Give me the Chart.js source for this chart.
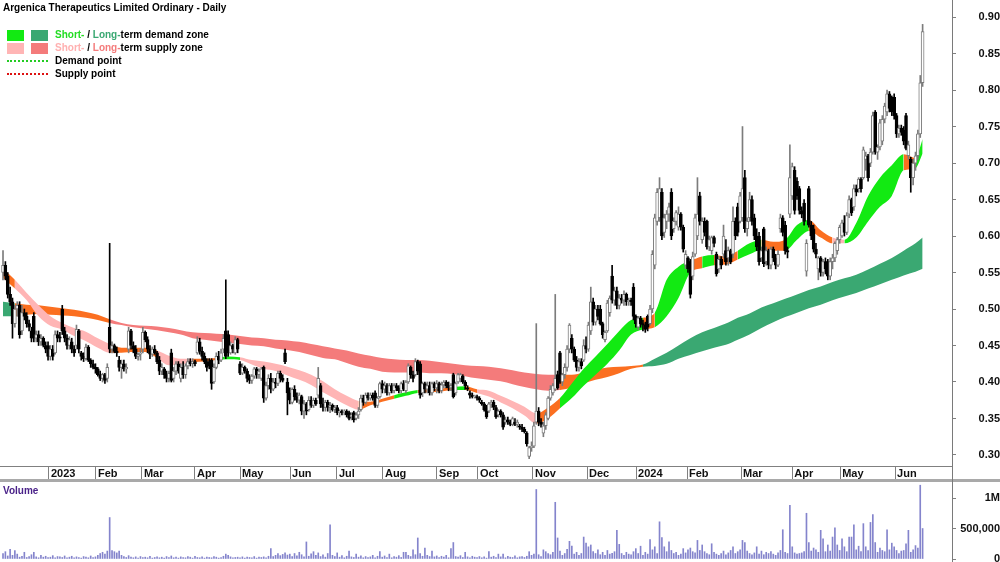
<!DOCTYPE html>
<html>
<head>
<meta charset="utf-8">
<script src="https://cdn.jsdelivr.net/npm/chart.js@4.4.1/dist/chart.umd.min.js"></script>
<style>
  body { margin: 0; background: #fff; font-family: "Liberation Sans", Arial, sans-serif; }
  #wrap { position: relative; width: 1000px; height: 562px; overflow: hidden; }
  #priceBox { position: absolute; left: 0; top: 0; }
  #volBox { position: absolute; left: 0; top: 484px; }
  #sep { position: absolute; left: 0; top: 479px; width: 1000px; height: 3px; background: #a9a9a9; }
  #vline { position: absolute; left: 952px; top: 0; width: 1px; height: 562px; background: #7a7a7a; }
  #title { position: absolute; left: 3px; top: 2px; font-size: 10px; font-weight: bold; color: #000; }
  .row { position: absolute; left: 7px; height: 11px; font-size: 10px; font-weight: bold; color: #000; white-space: nowrap; }
  .sw { position: absolute; top: 0; width: 17px; height: 11px; }
  .sw.a { left: 0; } .sw.b { left: 24px; }
  .dots { position: absolute; left: 0; top: 4px; width: 41px; height: 0; border-top: 2px dotted; }
  .txt { position: absolute; left: 48px; top: -1px; line-height: 12px; }
  #volLabel { position: absolute; left: 3px; top: 485px; font-size: 10px; font-weight: bold; color: #4a2289; }
</style>
</head>
<body>
<div id="wrap">
  <div id="priceBox"><canvas id="price" width="1000" height="482"></canvas></div>
  <div id="volBox"><canvas id="volume" width="1000" height="90"></canvas></div>
  <div id="sep"></div>
  <div id="vline"></div>
  <div id="title">Argenica Therapeutics Limited Ordinary - Daily</div>
  <div class="row" style="top:30px">
    <span class="sw a" style="background:#12ea12"></span><span class="sw b" style="background:#3aa872"></span>
    <span class="txt"><span style="color:#22dd22">Short-</span> / <span style="color:#3aa872">Long-</span>term demand zone</span>
  </div>
  <div class="row" style="top:43px">
    <span class="sw a" style="background:#ffb5b5"></span><span class="sw b" style="background:#f47b7b"></span>
    <span class="txt"><span style="color:#ffb0b0">Short-</span> / <span style="color:#f47b7b">Long-</span>term supply zone</span>
  </div>
  <div class="row" style="top:56px">
    <span class="dots" style="border-color:#22cc22"></span><span class="txt">Demand point</span>
  </div>
  <div class="row" style="top:69px">
    <span class="dots" style="border-color:#dd1111"></span><span class="txt">Supply point</span>
  </div>
  <div id="volLabel">Volume</div>
</div>
<script>
// daily candles, Dec 2022 -> mid Jun 2024 (one entry per trading day)
const open = [
  0.550,0.560,0.545,0.520,0.510,0.480,0.500,0.505,0.470,0.495,
  0.490,0.480,0.470,0.490,0.460,0.465,0.455,0.460,0.450,0.450,
  0.435,0.445,0.440,0.465,0.462,0.500,0.470,0.460,0.450,0.455,
  0.445,0.450,0.470,0.440,0.435,0.432,0.448,0.430,0.425,0.420,
  0.418,0.410,0.405,0.410,0.405,0.475,0.445,0.450,0.442,0.430,
  0.420,0.425,0.418,0.445,0.470,0.450,0.445,0.435,0.438,0.445,
  0.468,0.458,0.445,0.438,0.445,0.440,0.430,0.415,0.418,0.410,
  0.405,0.440,0.405,0.415,0.425,0.405,0.420,0.410,0.422,0.428,
  0.425,0.428,0.440,0.455,0.442,0.435,0.428,0.428,0.430,0.400,
  0.420,0.435,0.430,0.445,0.470,0.465,0.440,0.450,0.440,0.458,
  0.425,0.412,0.420,0.415,0.405,0.402,0.408,0.418,0.410,0.405,
  0.420,0.378,0.395,0.405,0.390,0.400,0.398,0.412,0.405,0.440,
  0.400,0.385,0.372,0.390,0.380,0.375,0.380,0.360,0.370,0.362,
  0.375,0.368,0.375,0.382,0.395,0.370,0.365,0.372,0.365,0.368,
  0.362,0.365,0.358,0.360,0.358,0.360,0.358,0.352,0.358,0.350,
  0.355,0.362,0.378,0.372,0.382,0.378,0.382,0.385,0.368,0.380,
  0.398,0.390,0.395,0.385,0.395,0.388,0.395,0.392,0.388,0.398,
  0.388,0.400,0.420,0.410,0.410,0.428,0.425,0.385,0.398,0.390,
  0.395,0.385,0.398,0.392,0.398,0.388,0.396,0.400,0.395,0.392,
  0.410,0.385,0.400,0.405,0.408,0.400,0.392,0.385,0.382,0.380,
  0.380,0.378,0.372,0.370,0.365,0.360,0.370,0.372,0.365,0.355,
  0.360,0.355,0.345,0.348,0.345,0.342,0.345,0.342,0.340,0.338,
  0.335,0.330,0.298,0.310,0.312,0.345,0.360,0.345,0.330,0.340,
  0.350,0.378,0.385,0.390,0.410,0.440,0.400,0.410,0.420,0.445,
  0.460,0.445,0.430,0.420,0.428,0.430,0.450,0.445,0.470,0.510,
  0.482,0.500,0.500,0.480,0.458,0.470,0.495,0.545,0.512,0.525,
  0.505,0.515,0.512,0.520,0.510,0.512,0.530,0.490,0.475,0.488,
  0.480,0.478,0.490,0.480,0.500,0.560,0.620,0.625,0.660,0.605,
  0.620,0.630,0.660,0.610,0.620,0.612,0.630,0.612,0.560,0.570,
  0.565,0.545,0.575,0.600,0.655,0.595,0.620,0.620,0.585,0.580,
  0.598,0.575,0.555,0.568,0.575,0.580,0.570,0.580,0.575,0.620,
  0.640,0.620,0.625,0.680,0.610,0.625,0.650,0.625,0.600,0.600,
  0.570,0.610,0.565,0.580,0.560,0.582,0.570,0.560,0.610,0.625,
  0.615,0.580,0.630,0.655,0.690,0.675,0.665,0.635,0.645,0.552,
  0.665,0.615,0.610,0.582,0.555,0.570,0.550,0.565,0.565,0.545,
  0.565,0.570,0.580,0.595,0.600,0.618,0.605,0.630,0.650,0.640,
  0.665,0.665,0.678,0.680,0.705,0.710,0.700,0.715,0.770,0.715,
  0.722,0.730,0.760,0.770,0.795,0.790,0.790,0.765,0.740,0.748,
  0.745,0.765,0.710,0.705,0.680,0.700,0.710,0.740,0.810
];
const high = [
  0.580,0.565,0.550,0.530,0.515,0.505,0.510,0.510,0.505,0.500,
  0.495,0.485,0.475,0.495,0.470,0.470,0.465,0.462,0.455,0.455,
  0.450,0.450,0.470,0.470,0.468,0.505,0.475,0.465,0.462,0.460,
  0.450,0.478,0.472,0.442,0.440,0.452,0.450,0.432,0.430,0.425,
  0.420,0.415,0.412,0.412,0.425,0.590,0.455,0.452,0.448,0.435,
  0.430,0.430,0.425,0.475,0.472,0.455,0.450,0.440,0.445,0.475,
  0.470,0.462,0.450,0.448,0.450,0.442,0.435,0.425,0.420,0.415,
  0.415,0.445,0.420,0.428,0.428,0.425,0.428,0.425,0.432,0.432,
  0.432,0.430,0.462,0.460,0.448,0.440,0.432,0.432,0.432,0.425,
  0.440,0.442,0.445,0.465,0.540,0.470,0.455,0.452,0.462,0.460,
  0.428,0.425,0.422,0.418,0.410,0.410,0.420,0.420,0.418,0.420,
  0.422,0.400,0.410,0.412,0.405,0.405,0.415,0.415,0.410,0.445,
  0.405,0.392,0.392,0.395,0.385,0.385,0.382,0.375,0.372,0.380,
  0.380,0.378,0.378,0.420,0.398,0.378,0.375,0.375,0.372,0.370,
  0.368,0.368,0.362,0.362,0.362,0.362,0.360,0.358,0.360,0.358,
  0.365,0.382,0.382,0.385,0.385,0.385,0.385,0.388,0.380,0.400,
  0.402,0.400,0.398,0.398,0.398,0.398,0.398,0.395,0.400,0.402,
  0.402,0.425,0.422,0.415,0.432,0.430,0.428,0.400,0.400,0.400,
  0.400,0.400,0.400,0.402,0.400,0.400,0.402,0.402,0.400,0.398,
  0.412,0.400,0.412,0.412,0.410,0.402,0.395,0.388,0.385,0.382,
  0.382,0.380,0.375,0.372,0.368,0.372,0.375,0.375,0.368,0.362,
  0.362,0.358,0.352,0.352,0.348,0.352,0.350,0.348,0.342,0.342,
  0.338,0.332,0.312,0.318,0.345,0.480,0.365,0.350,0.345,0.358,
  0.380,0.395,0.398,0.520,0.415,0.442,0.412,0.425,0.450,0.480,
  0.465,0.448,0.435,0.432,0.432,0.458,0.462,0.482,0.530,0.515,
  0.505,0.505,0.505,0.482,0.470,0.512,0.518,0.560,0.530,0.530,
  0.520,0.520,0.525,0.522,0.515,0.515,0.535,0.492,0.490,0.490,
  0.485,0.482,0.492,0.505,0.580,0.630,0.665,0.680,0.665,0.630,
  0.635,0.645,0.665,0.625,0.635,0.640,0.632,0.615,0.580,0.572,
  0.568,0.578,0.630,0.680,0.660,0.625,0.625,0.622,0.600,0.600,
  0.600,0.578,0.572,0.572,0.615,0.595,0.585,0.582,0.640,0.625,
  0.645,0.660,0.750,0.690,0.625,0.660,0.655,0.630,0.610,0.605,
  0.585,0.612,0.585,0.582,0.585,0.585,0.575,0.580,0.630,0.628,
  0.620,0.585,0.725,0.700,0.695,0.680,0.668,0.640,0.650,0.595,
  0.668,0.620,0.615,0.590,0.572,0.572,0.568,0.570,0.568,0.570,
  0.575,0.592,0.598,0.615,0.622,0.628,0.632,0.655,0.652,0.670,
  0.670,0.680,0.680,0.722,0.715,0.712,0.720,0.770,0.772,0.725,
  0.760,0.765,0.782,0.800,0.798,0.792,0.795,0.768,0.752,0.752,
  0.750,0.768,0.730,0.708,0.705,0.715,0.745,0.820,0.890
];
const low = [
  0.540,0.540,0.515,0.505,0.460,0.475,0.490,0.460,0.465,0.485,
  0.475,0.470,0.455,0.455,0.455,0.450,0.450,0.448,0.440,0.430,
  0.430,0.430,0.438,0.455,0.455,0.465,0.455,0.445,0.445,0.440,
  0.435,0.445,0.440,0.430,0.428,0.430,0.428,0.420,0.418,0.412,
  0.408,0.402,0.400,0.398,0.400,0.440,0.440,0.440,0.435,0.415,
  0.405,0.415,0.412,0.440,0.445,0.440,0.432,0.430,0.430,0.440,
  0.455,0.440,0.432,0.435,0.438,0.425,0.410,0.410,0.405,0.400,
  0.400,0.400,0.400,0.410,0.412,0.400,0.405,0.405,0.418,0.422,
  0.420,0.422,0.438,0.438,0.430,0.425,0.415,0.418,0.390,0.398,
  0.418,0.425,0.428,0.440,0.432,0.435,0.438,0.440,0.438,0.440,
  0.410,0.410,0.412,0.400,0.398,0.398,0.405,0.405,0.405,0.402,
  0.372,0.375,0.390,0.385,0.388,0.392,0.395,0.400,0.400,0.425,
  0.355,0.370,0.370,0.375,0.372,0.370,0.355,0.350,0.355,0.360,
  0.365,0.365,0.368,0.378,0.365,0.360,0.360,0.360,0.358,0.360,
  0.358,0.355,0.352,0.355,0.355,0.352,0.348,0.348,0.345,0.348,
  0.350,0.360,0.368,0.370,0.375,0.375,0.375,0.365,0.365,0.378,
  0.385,0.385,0.382,0.382,0.385,0.385,0.388,0.385,0.385,0.388,
  0.385,0.398,0.405,0.400,0.408,0.410,0.378,0.380,0.385,0.385,
  0.382,0.382,0.388,0.385,0.385,0.385,0.392,0.392,0.388,0.388,
  0.378,0.382,0.398,0.400,0.398,0.390,0.388,0.378,0.378,0.378,
  0.375,0.372,0.368,0.360,0.350,0.358,0.365,0.362,0.350,0.352,
  0.352,0.335,0.342,0.342,0.340,0.340,0.340,0.338,0.335,0.332,
  0.330,0.312,0.295,0.305,0.310,0.342,0.340,0.338,0.325,0.335,
  0.348,0.375,0.382,0.388,0.390,0.398,0.395,0.405,0.415,0.440,
  0.440,0.428,0.415,0.415,0.418,0.428,0.440,0.442,0.465,0.478,
  0.478,0.485,0.478,0.460,0.455,0.468,0.490,0.508,0.505,0.500,
  0.500,0.508,0.505,0.505,0.505,0.505,0.485,0.475,0.472,0.475,
  0.470,0.468,0.470,0.478,0.495,0.555,0.615,0.620,0.595,0.598,
  0.610,0.620,0.595,0.605,0.615,0.608,0.608,0.578,0.555,0.550,
  0.515,0.540,0.572,0.595,0.615,0.590,0.600,0.582,0.580,0.575,
  0.585,0.545,0.550,0.555,0.570,0.560,0.560,0.562,0.570,0.595,
  0.600,0.618,0.620,0.605,0.600,0.620,0.615,0.595,0.580,0.560,
  0.565,0.558,0.560,0.555,0.555,0.565,0.555,0.558,0.605,0.600,
  0.575,0.570,0.625,0.650,0.630,0.650,0.630,0.625,0.615,0.545,
  0.612,0.595,0.578,0.570,0.540,0.545,0.545,0.548,0.540,0.540,
  0.555,0.565,0.575,0.590,0.598,0.600,0.602,0.625,0.628,0.635,
  0.655,0.660,0.660,0.678,0.690,0.675,0.695,0.712,0.712,0.705,
  0.718,0.725,0.755,0.765,0.770,0.765,0.760,0.735,0.735,0.738,
  0.725,0.718,0.705,0.660,0.670,0.690,0.705,0.735,0.805
];
const close = [
  0.560,0.545,0.520,0.510,0.480,0.500,0.505,0.465,0.495,0.490,
  0.480,0.475,0.460,0.460,0.465,0.455,0.460,0.450,0.445,0.435,
  0.445,0.435,0.465,0.460,0.460,0.470,0.460,0.450,0.458,0.445,
  0.440,0.472,0.445,0.435,0.432,0.448,0.430,0.425,0.420,0.418,
  0.410,0.405,0.410,0.402,0.420,0.445,0.450,0.442,0.440,0.420,
  0.425,0.418,0.420,0.470,0.450,0.445,0.435,0.438,0.440,0.468,
  0.458,0.445,0.438,0.445,0.440,0.428,0.415,0.420,0.410,0.405,
  0.412,0.402,0.415,0.425,0.415,0.420,0.410,0.422,0.428,0.425,
  0.428,0.425,0.455,0.442,0.435,0.428,0.420,0.422,0.398,0.420,
  0.435,0.430,0.440,0.460,0.435,0.440,0.450,0.445,0.458,0.445,
  0.412,0.420,0.415,0.405,0.402,0.408,0.418,0.410,0.415,0.418,
  0.378,0.395,0.405,0.390,0.400,0.398,0.412,0.405,0.402,0.428,
  0.385,0.375,0.390,0.380,0.375,0.382,0.360,0.370,0.360,0.375,
  0.368,0.375,0.370,0.405,0.370,0.365,0.372,0.365,0.368,0.362,
  0.365,0.358,0.360,0.358,0.360,0.355,0.350,0.355,0.348,0.355,
  0.360,0.378,0.372,0.382,0.378,0.382,0.378,0.368,0.378,0.398,
  0.390,0.395,0.385,0.395,0.388,0.395,0.392,0.388,0.398,0.390,
  0.400,0.422,0.410,0.405,0.428,0.415,0.382,0.398,0.390,0.395,
  0.385,0.398,0.392,0.398,0.388,0.396,0.400,0.395,0.392,0.395,
  0.380,0.398,0.410,0.410,0.400,0.395,0.390,0.382,0.380,0.380,
  0.378,0.375,0.370,0.362,0.352,0.370,0.372,0.365,0.352,0.360,
  0.355,0.338,0.348,0.345,0.342,0.350,0.342,0.345,0.338,0.335,
  0.332,0.315,0.310,0.312,0.340,0.360,0.345,0.342,0.340,0.355,
  0.378,0.390,0.395,0.405,0.392,0.400,0.410,0.420,0.445,0.478,
  0.445,0.430,0.420,0.428,0.422,0.450,0.445,0.478,0.510,0.482,
  0.500,0.490,0.480,0.465,0.468,0.508,0.515,0.512,0.525,0.505,
  0.515,0.512,0.520,0.510,0.512,0.510,0.490,0.480,0.488,0.480,
  0.478,0.472,0.475,0.500,0.575,0.625,0.660,0.665,0.600,0.625,
  0.630,0.640,0.600,0.620,0.632,0.630,0.612,0.582,0.575,0.555,
  0.520,0.572,0.625,0.630,0.620,0.620,0.605,0.585,0.595,0.598,
  0.590,0.548,0.568,0.560,0.600,0.565,0.580,0.565,0.620,0.600,
  0.605,0.655,0.665,0.610,0.620,0.650,0.620,0.600,0.585,0.565,
  0.580,0.562,0.580,0.560,0.582,0.570,0.560,0.575,0.625,0.605,
  0.580,0.578,0.680,0.695,0.635,0.655,0.635,0.630,0.620,0.590,
  0.615,0.600,0.582,0.575,0.570,0.550,0.565,0.555,0.545,0.565,
  0.570,0.590,0.595,0.612,0.618,0.605,0.628,0.650,0.632,0.665,
  0.660,0.678,0.665,0.718,0.710,0.680,0.715,0.765,0.715,0.722,
  0.755,0.760,0.778,0.795,0.775,0.770,0.765,0.740,0.748,0.742,
  0.730,0.720,0.725,0.680,0.700,0.710,0.740,0.810,0.880
];
// volume in thousands of shares
const volumeK = [
  90,120,50,160,60,140,80,30,45,110,
  25,40,70,110,35,20,60,30,45,25,
  30,55,20,40,35,25,50,20,30,45,
  20,35,25,15,40,30,20,50,25,35,
  60,90,110,80,130,680,140,120,100,130,
  60,40,25,55,30,20,35,15,40,25,
  30,20,45,15,25,35,20,30,15,40,
  25,50,20,30,15,35,25,20,40,30,
  15,45,25,20,35,15,30,25,20,40,
  30,15,25,45,80,60,35,20,25,30,
  20,35,15,30,25,20,40,15,30,25,
  35,20,45,170,40,60,90,55,75,100,
  65,80,40,90,50,110,70,35,280,45,
  85,120,60,100,40,70,30,90,560,60,
  40,100,30,55,20,45,130,35,25,80,
  30,50,20,40,25,35,60,20,45,120,
  30,50,25,80,20,40,30,55,25,110,
  110,60,40,150,70,345,90,45,180,60,
  40,130,35,50,25,45,30,60,20,170,
  270,40,30,55,25,110,35,20,45,30,
  25,40,20,35,15,120,30,45,25,80,
  35,80,20,45,30,25,50,20,35,40,
  25,45,120,60,80,1140,70,40,150,120,
  90,70,110,930,345,130,60,90,160,290,
  210,80,110,60,90,360,260,200,230,120,
  90,150,70,110,60,140,80,95,120,470,
  240,90,60,110,80,70,120,170,90,210,
  60,110,80,320,150,200,90,610,350,200,
  120,280,140,90,110,60,80,170,100,150,
  180,120,100,305,140,230,120,90,70,250,
  110,80,60,90,130,70,100,140,200,90,
  120,150,305,270,130,90,70,100,200,80,
  130,70,110,90,120,80,60,100,140,480,
  110,90,880,200,100,80,90,100,120,750,
  270,130,180,150,110,470,330,120,230,130,
  360,510,230,140,330,200,120,360,360,560,
  150,210,120,580,200,140,600,730,270,110,
  180,140,120,480,150,260,200,140,90,130,
  140,250,470,110,150,220,180,1210,500
];

// demand / supply ribbons read at every 5th trading day
const ribbonIdx = [
  0,5,10,15,20,25,30,35,40,45,50,55,60,65,70,75,80,85,90,95,
  100,105,110,115,120,125,130,135,140,145,150,155,160,165,170,175,180,185,190,195,
  200,205,210,215,220,225,230,235,240,245,250,255,260,265,270,275,280,285,290,295,
  300,305,310,315,320,325,330,335,340,345,350,355,360,365,370,375,380,385,388
];
const shortUpper = [
  0.556,0.540,0.522,0.505,0.490,0.481,0.474,0.469,0.460,0.452,
  0.447,0.447,0.447,0.443,0.436,0.432,0.432,0.432,0.433,0.435,
  0.434,0.430,0.428,0.425,0.421,0.416,0.410,0.401,0.390,0.381,
  0.374,0.373,0.377,0.382,0.386,0.389,0.390,0.391,0.393,0.394,
  0.390,0.388,0.381,0.374,0.366,0.357,0.365,0.378,0.398,0.418,
  0.435,0.452,0.470,0.485,0.488,0.495,0.540,0.558,0.566,0.572,
  0.574,0.572,0.580,0.590,0.595,0.592,0.595,0.615,0.622,0.608,
  0.598,0.595,0.618,0.655,0.680,0.697,0.712,0.707,0.733
];
const shortLower = [
  0.543,0.528,0.512,0.490,0.477,0.472,0.463,0.456,0.447,0.440,
  0.440,0.441,0.441,0.433,0.423,0.424,0.427,0.428,0.430,0.431,
  0.430,0.424,0.418,0.415,0.409,0.403,0.396,0.386,0.377,0.368,
  0.362,0.368,0.373,0.377,0.381,0.385,0.386,0.387,0.389,0.389,
  0.385,0.380,0.372,0.364,0.354,0.343,0.350,0.364,0.378,0.395,
  0.410,0.425,0.443,0.465,0.472,0.475,0.490,0.515,0.550,0.556,
  0.560,0.561,0.568,0.575,0.581,0.580,0.580,0.595,0.607,0.598,
  0.590,0.590,0.598,0.620,0.640,0.655,0.690,0.693,0.713
];
// D = demand, S = supply, N = neutral (one letter per ribbon step)
const shortZone = 'NSSSSSSSSNNNNSSSNNDDSSSSSSSSSSNNNDDNNNDNSSSSSNNDDDDDDDNDDDNDNNDDNNDDNNSDDDDDNDD';
const longUpper = [
  0.510,0.508,0.506,0.505,0.503,0.501,0.499,0.496,0.492,0.486,
  0.481,0.478,0.477,0.476,0.474,0.471,0.468,0.467,0.466,0.465,
  0.463,0.461,0.460,0.458,0.457,0.455,0.452,0.449,0.446,0.443,
  0.439,0.436,0.433,0.431,0.430,0.430,0.429,0.427,0.425,0.423,
  0.422,0.421,0.419,0.416,0.413,0.411,0.410,0.410,0.410,0.413,
  0.417,0.420,0.421,0.422,0.424,0.432,0.440,0.450,0.460,0.468,
  0.474,0.480,0.488,0.494,0.502,0.508,0.514,0.520,0.526,0.531,
  0.537,0.542,0.547,0.554,0.562,0.570,0.580,0.590,0.598
];
const longLower = [
  0.490,0.490,0.492,0.493,0.492,0.491,0.490,0.488,0.485,0.481,
  0.478,0.475,0.473,0.471,0.468,0.465,0.460,0.458,0.456,0.454,
  0.452,0.450,0.449,0.446,0.444,0.441,0.437,0.433,0.431,0.426,
  0.421,0.418,0.414,0.413,0.413,0.413,0.412,0.412,0.411,0.408,
  0.405,0.403,0.401,0.397,0.393,0.390,0.388,0.389,0.392,0.398,
  0.403,0.407,0.412,0.418,0.421,0.422,0.425,0.432,0.437,0.442,
  0.447,0.451,0.458,0.465,0.474,0.482,0.489,0.495,0.501,0.506,
  0.512,0.517,0.522,0.528,0.534,0.540,0.546,0.551,0.555
];
const longZone = 'DNNNNNNNNSSSSSSSSSSSSSSSSSSSSSSSSSSSSSSSSSSSSSSNNNNNNNDDDDDDDDDDDDDDDDDDDDDDDDD';

// month starts (position on the trading-day index) and their labels
const monthStart = [19.4, 39.2, 58.6, 81.0, 100.0, 121.1, 140.9, 160.3, 183.1, 200.4, 223.6, 246.4, 267.1, 288.6, 311.4, 333.0, 353.2, 376.4];
const monthLabels = ['2023', 'Feb', 'Mar', 'Apr', 'May', 'Jun', 'Jul', 'Aug', 'Sep', 'Oct', 'Nov', 'Dec', '2024', 'Feb', 'Mar', 'Apr', 'May', 'Jun'];
const priceTicks = [0.30, 0.35, 0.40, 0.45, 0.50, 0.55, 0.60, 0.65, 0.70, 0.75, 0.80, 0.85, 0.90];
const volumeTicks = [0, 500, 1000];
const volumeTickLabels = ['0', '500,000', '1M'];

const zoneColours = {
  short: { D: '#12ea12', S: '#ffb5b5', N: '#fb6f20' },
  long: { D: '#3aa872', S: '#f47b7b', N: '#fb6f20' }
};
const UP = '#7c7c7c', DOWN = '#000';
const axisFont = { family: 'Liberation Sans', size: 11, weight: 'bold' };
const xMin = -1.27, xMax = 400.4;

const days = open.map((_, i) => i);
const isUp = i => close[i] >= open[i];

function ribbon(values, zone, kind, fillTo) {
  return {
    type: 'line',
    data: ribbonIdx.map((d, k) => ({ x: d, y: values[k] })),
    borderColor: 'rgba(0,0,0,0)',
    borderWidth: 1,
    pointRadius: 0,
    cubicInterpolationMode: 'monotone',
    backgroundColor: zone ? zoneColours[kind][zone[0]] : 'rgba(0,0,0,0)',
    fill: fillTo,
    segment: zone ? { backgroundColor: c => zoneColours[kind][zone[c.p0DataIndex]] } : undefined
  };
}

// fixed axis sizes so both panes share the same plot width
const fixY = s => { s.width = 48; s.paddingTop = 0; s.paddingBottom = 0; };

const xScale = {
  type: 'linear', min: xMin, max: xMax, offset: false,
  afterBuildTicks: s => { s.ticks = monthStart.map(v => ({ value: v })); },
  afterFit: s => { s.height = 16; s.paddingLeft = 0; s.paddingRight = 0; },
  grid: { drawOnChartArea: false, offset: false, tickLength: 13, color: '#808080' },
  border: { color: '#808080' },
  ticks: { autoSkip: false, maxRotation: 0, minRotation: 0, align: 'start', padding: -12, labelOffset: 2,
           color: '#111', font: axisFont, callback: (v, k) => monthLabels[k] }
};

new Chart(document.getElementById('price'), {
  type: 'bar',
  data: {
    datasets: [
      {
        order: 0, grouped: false, barThickness: 3, borderWidth: 1, borderSkipped: false, minBarLength: 1,
        data: days.map(i => ({ x: i, y: [open[i], close[i]] })),
        backgroundColor: c => isUp(c.dataIndex) ? '#fff' : DOWN,
        borderColor: c => isUp(c.dataIndex) ? UP : DOWN
      },
      {
        order: 1, grouped: false, barThickness: 1, borderWidth: 0,
        data: days.map(i => ({ x: i, y: [low[i], high[i]] })),
        backgroundColor: c => isUp(c.dataIndex) ? UP : DOWN
      },
      Object.assign(ribbon(shortUpper, shortZone, 'short', '+1'), { order: 2 }),
      Object.assign(ribbon(shortLower, null, null, false), { order: 3 }),
      Object.assign(ribbon(longUpper, longZone, 'long', '+1'), { order: 4 }),
      Object.assign(ribbon(longLower, null, null, false), { order: 5 })
    ]
  },
  options: {
    responsive: false, animation: false, events: [],
    layout: { padding: 0 },
    plugins: { legend: { display: false }, tooltip: { enabled: false } },
    scales: {
      x: xScale,
      y: {
        position: 'right', min: 0.2849, max: 0.9234,
        afterBuildTicks: s => { s.ticks = priceTicks.map(v => ({ value: v })); },
        afterFit: fixY,
        grid: { drawOnChartArea: false, tickLength: 4, color: '#808080' },
        border: { color: '#808080' },
        ticks: { crossAlign: 'far', padding: 14, color: '#111', font: axisFont, callback: v => v.toFixed(2) }
      }
    }
  }
});

new Chart(document.getElementById('volume'), {
  type: 'bar',
  data: {
    datasets: [{
      grouped: false, barThickness: 1, borderWidth: 0,
      data: days.map(i => ({ x: i, y: volumeK[i] })),
      backgroundColor: '#8484cc'
    }]
  },
  options: {
    responsive: false, animation: false, events: [],
    layout: { padding: { top: 0, bottom: 15, left: 0, right: 0 } },
    plugins: { legend: { display: false }, tooltip: { enabled: false } },
    scales: {
      x: { type: 'linear', min: xMin, max: xMax, offset: false, display: false },
      y: {
        position: 'right', min: 0, max: 1230,
        afterBuildTicks: s => { s.ticks = volumeTicks.map(v => ({ value: v })); },
        afterFit: fixY,
        grid: { drawOnChartArea: false, tickLength: 4, color: '#808080' },
        border: { color: '#808080' },
        ticks: { crossAlign: 'far', padding: -5, color: '#111', font: axisFont,
                 callback: (v, k) => volumeTickLabels[k] }
      }
    }
  }
});
</script>
</body>
</html>
